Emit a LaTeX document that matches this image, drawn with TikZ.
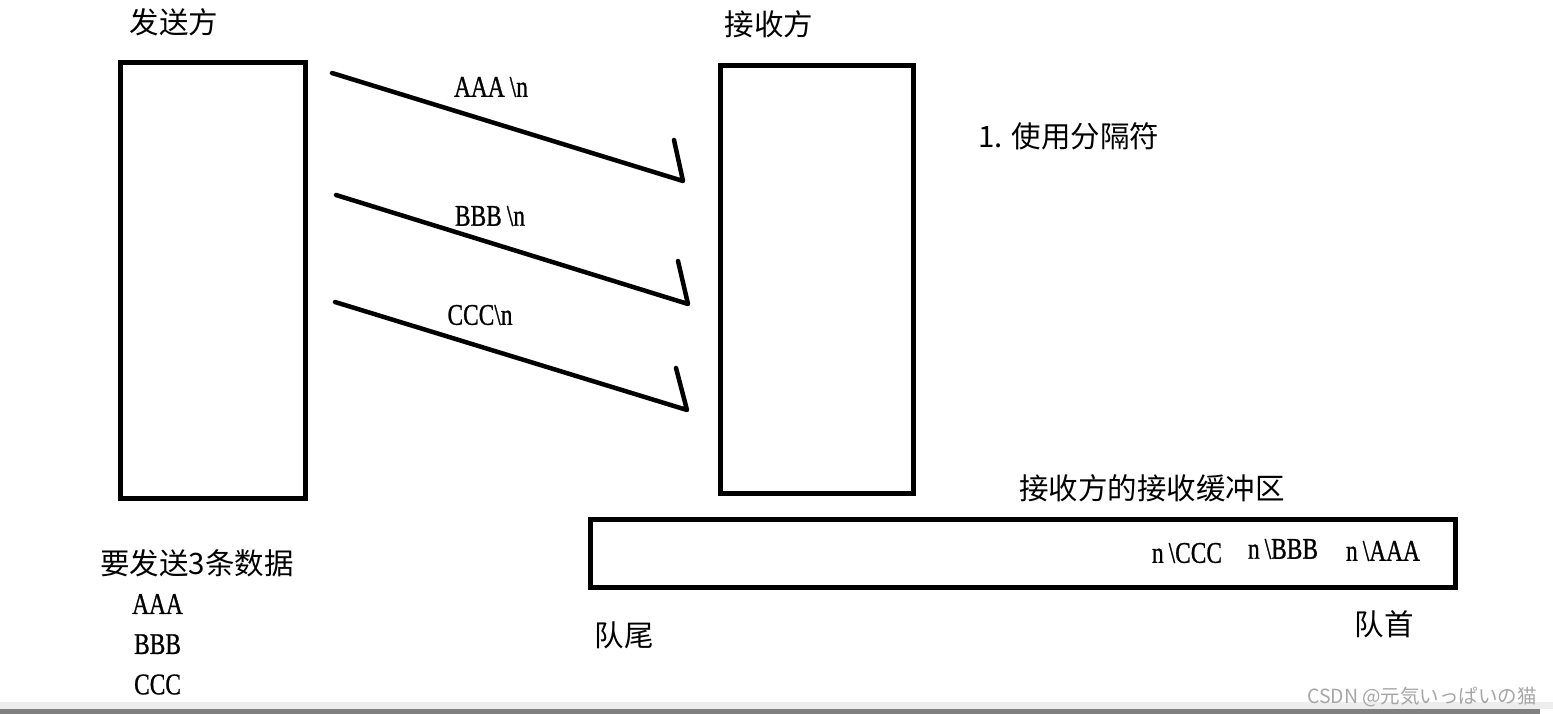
\documentclass[tikz,border=0pt]{standalone}
\usepackage{fontspec}
\newfontfamily\cjk{Noto Sans CJK SC}
\newfontfamily\cjkjp{Noto Sans CJK JP}
\newfontfamily\lat[FakeStretch=0.78,FakeBold=0.8]{Liberation Serif}
\usepackage{tikz}
\usetikzlibrary{positioning}

\begin{document}
\begin{tikzpicture}[
  x=1pt, y=-1pt,
  box/.style={draw, line width=5pt, inner sep=0pt},
  msg/.style={line width=4.5pt, line cap=round, line join=round},
  zh/.style={inner sep=0pt, font=\cjk\fontsize{29.5}{32}\selectfont},
  txt/.style={inner sep=0pt, font=\lat\fontsize{30}{32}\selectfont}
]
  \fill[white] (0,0) rectangle (1553,714);
  \useasboundingbox (0,0) rectangle (1553,714);

  % sender, receiver and receive buffer
  \node[box, minimum width=185pt, minimum height=435pt] (snd) at (213,280.5) {};
  \node[box, minimum width=193pt, minimum height=427pt] (rcv) at (817,279.5) {};
  \node[box, minimum width=865pt, minimum height=67.5pt] (buf) at (1023,553.25) {};

  \node[zh] (sndT) at (174,22) {发送方};
  \node[zh] (rcvT) at (769,24) {接收方};
  \node[zh] (sep) at (1069,136) {1. 使用分隔符};
  \node[zh] (bufT) at (1152,488) {接收方的接收缓冲区};
  \node[zh] (tail) at (624,635) {队尾};
  \node[zh] (head) at (1384,624) {队首};

  % data to send
  \node[zh, anchor=west] (todo) at (100,563) {要发送3条数据};
  \node[txt, anchor=west] (dA) at (132,604) {AAA};
  \node[txt, below=20pt of dA] (dB) {BBB};
  \node[txt, below=20pt of dB] (dC) {CCC};

  % messages
  \coordinate (m1s) at (332,73);
  \coordinate (m1e) at (683,181);
  \coordinate (m1b) at (674,140);
  \coordinate (m2s) at (336,195);
  \coordinate (m2e) at (688,304);
  \coordinate (m2b) at (678,261);
  \coordinate (m3s) at (335,302);
  \coordinate (m3e) at (687,410);
  \coordinate (m3b) at (676,368);
  \draw[msg] (m1s) -- (m1e) -- (m1b);
  \draw[msg] (m2s) -- (m2e) -- (m2b);
  \draw[msg] (m3s) -- (m3e) -- (m3b);

  \node[txt] (l1) at (491,87) {AAA\,\textbackslash n};
  \node[txt] (l2) at (490,216) {BBB\,\textbackslash n};
  \node[txt] (l3) at (480,315) {CCC\textbackslash n};

  % buffer contents
  \node[txt] (qC) at (1187,553) {n\,\textbackslash CCC};
  \node[txt] (qB) at (1283,549) {n\,\textbackslash BBB};
  \node[txt] (qA) at (1383,551) {n\,\textbackslash AAA};

  % page foot
  \fill[black!7] (0,702) rectangle (1553,709);
  \fill[black!50] (0,709) rectangle (1540,714);
  \node[inner sep=0pt, text=black!35, font=\cjkjp\fontsize{19.5}{22}\selectfont] (wm) at (1422,697) {CSDN @元気いっぱいの猫};
\end{tikzpicture}
\end{document}
